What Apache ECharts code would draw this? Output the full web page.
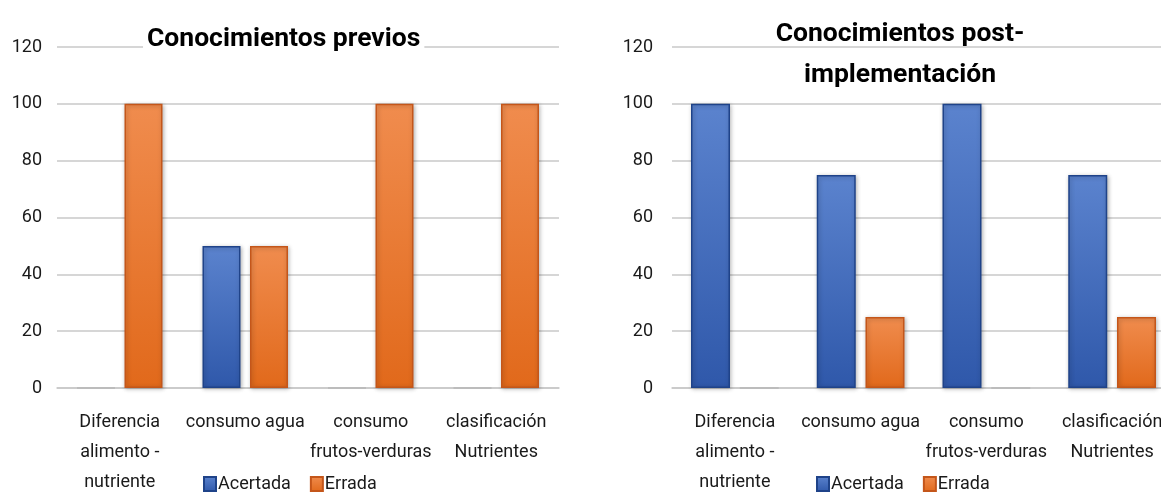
<!DOCTYPE html>
<html>
<head>
<meta charset="utf-8">
<script src="https://cdn.jsdelivr.net/npm/echarts@6/dist/echarts.min.js"></script>
<style>
  html, body { margin: 0; padding: 0; background: #fff; }
  #chart { width: 1161px; height: 493px; }
</style>
</head>
<body>
<div id="chart"></div>
<script>
// Categories and percentages for the two knowledge surveys
const categories = [
  'Diferencia\nalimento -\nnutriente',
  'consumo agua',
  'consumo\nfrutos-verduras',
  'clasificación\nNutrientes'
];
const seriesNames = ['Acertada', 'Errada'];
const previosAcertada = [0, 50, 0, 0];
const previosErrada = [100, 50, 100, 100];
const postAcertada = [100, 75, 100, 75];
const postErrada = [0, 25, 0, 25];
const yTicks = { min: 0, max: 120, interval: 20 };

const FONT = 'Roboto, "Noto Sans", sans-serif';

const blueFill = new echarts.graphic.LinearGradient(0, 0, 0, 1, [
  { offset: 0, color: '#5b83ce' },
  { offset: 1, color: '#2f58aa' }
]);
const orangeFill = new echarts.graphic.LinearGradient(0, 0, 0, 1, [
  { offset: 0, color: '#f08c4e' },
  { offset: 1, color: '#e1691b' }
]);
const blueStyle = {
  color: blueFill, borderColor: '#1f4389', borderWidth: 1.5,
  shadowColor: 'rgba(0,0,0,0.28)', shadowBlur: 4, shadowOffsetX: 1, shadowOffsetY: 1
};
const orangeStyle = {
  color: orangeFill, borderColor: '#c4561a', borderWidth: 1.5,
  shadowColor: 'rgba(0,0,0,0.28)', shadowBlur: 4, shadowOffsetX: 1, shadowOffsetY: 1
};
// empty bars only leave a faint grey trace on the baseline
const emptyStyle = {
  color: 'rgba(0,0,0,0)', borderColor: 'rgba(0,0,0,0.07)', borderWidth: 2,
  shadowBlur: 0, shadowColor: 'rgba(0,0,0,0)'
};

function xAxis(gridIndex) {
  return {
    type: 'category', gridIndex, data: categories,
    axisLine: { lineStyle: { color: '#c8c8c8', width: 1.5 } },
    axisTick: { show: false },
    axisLabel: {
      interval: 0, color: '#1a1a1a', fontFamily: FONT, fontSize: 18,
      lineHeight: 30, margin: 19
    }
  };
}
function yAxis(gridIndex, margin) {
  return {
    type: 'value', gridIndex, min: yTicks.min, max: yTicks.max, interval: yTicks.interval,
    axisLine: { show: false }, axisTick: { show: false },
    splitLine: { lineStyle: { color: '#c8c8c8', width: 1.5 } },
    axisLabel: { color: '#1a1a1a', fontFamily: FONT, fontSize: 18, margin }
  };
}
function bars(name, values, idx, style, width) {
  const data = values.map(v => (v === 0 ? { value: v, itemStyle: emptyStyle } : v));
  return {
    name, type: 'bar', data, xAxisIndex: idx, yAxisIndex: idx,
    barWidth: width, barGap: '25%', itemStyle: style, animation: false
  };
}
const legendCommon = {
  itemWidth: 12, itemHeight: 14, itemGap: 19,
  icon: 'rect',
  textStyle: { color: '#1a1a1a', fontFamily: FONT, fontSize: 18, padding: [0, 0, 0, -3] },
  data: seriesNames
};

const chart = echarts.init(document.getElementById('chart'), null, { renderer: 'canvas' });
chart.setOption({
  backgroundColor: '#fff',
  animation: false,
  title: [
    {
      text: 'Conocimientos previos', left: 143, top: 26,
      backgroundColor: '#fff', padding: [0, 4],
      textStyle: { fontFamily: FONT, fontWeight: 'bold', fontSize: 26.5, color: '#000' }
    },
    {
      text: 'Conocimientos post-\nimplementación', left: 900, top: 14, textAlign: 'center',
      padding: 0,
      textStyle: { fontFamily: FONT, fontWeight: 'bold', fontSize: 26.5, color: '#000', lineHeight: 41, align: 'center' }
    }
  ],
  legend: [
    Object.assign({ left: 198, top: 470 }, legendCommon),
    Object.assign({ left: 811, top: 470 }, legendCommon)
  ],
  grid: [
    { left: 57, top: 47, width: 502, height: 341, outerBoundsMode: 'none' },
    { left: 672, top: 47, width: 503, height: 341, outerBoundsMode: 'none' }
  ],
  xAxis: [xAxis(0), xAxis(1)],
  yAxis: [yAxis(0, 15), yAxis(1, 19)],
  series: [
    bars('Acertada', previosAcertada, 0, blueStyle, 38),
    bars('Errada', previosErrada, 0, orangeStyle, 38),
    bars('Acertada', postAcertada, 1, blueStyle, 39),
    bars('Errada', postErrada, 1, orangeStyle, 39)
  ]
});
</script>
</body>
</html>
